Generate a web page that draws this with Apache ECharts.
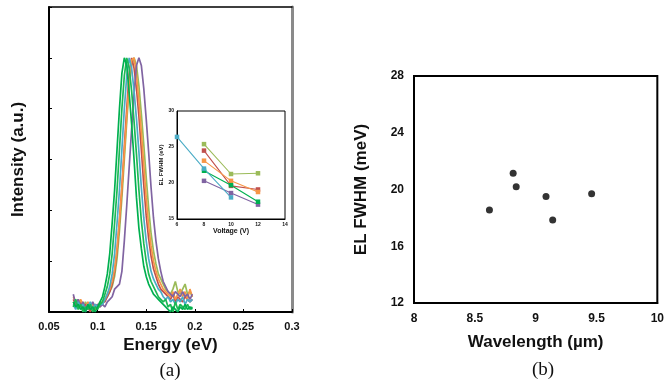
<!DOCTYPE html>
<html><head><meta charset="utf-8">
<script src="https://cdn.jsdelivr.net/npm/echarts@6/dist/echarts.min.js"></script>
<style>html,body{margin:0;padding:0;background:#fff}#c{width:667px;height:386px}</style>
</head><body><div id="c"></div>
<script>
// ---- Panel (a): EL spectra ----
const energies = [0.075,0.0775,0.080,0.0825,0.085,0.0875,0.090,0.0925,0.095,0.0975,0.100,0.1025,0.105,0.1075,0.110,0.1125,0.115,0.1175,0.120,0.1225,0.125,0.1275,0.130,0.1325,0.135,0.1375,0.140,0.1425,0.145,0.1475,0.150,0.1525,0.155,0.1575,0.160,0.1625,0.165,0.1675,0.170,0.1725,0.175,0.1775,0.180,0.1825,0.185,0.1875,0.190,0.1925,0.195,0.1975];
const specGreen1 = [0.04,0.02,0.03,0.01,0.02,0.00,0.03,0.01,0.02,0.00,0.02,0.04,0.06,0.10,0.15,0.23,0.35,0.48,0.64,0.80,0.94,1.0,0.97,0.86,0.74,0.60,0.45,0.33,0.25,0.18,0.14,0.11,0.09,0.07,0.06,0.05,0.04,0.03,0.02,0.01,0.00,0.02,0.01,0.00,0.02,0.01,0.03,0.01,0.02,0.01];
const specGreen2 = [0.02,0.05,0.01,0.03,0.00,0.02,0.01,0.03,0.00,0.02,0.01,0.03,0.04,0.07,0.10,0.15,0.23,0.35,0.48,0.64,0.80,0.93,1.0,0.96,0.87,0.75,0.62,0.48,0.36,0.27,0.20,0.15,0.12,0.10,0.08,0.06,0.05,0.04,0.05,0.02,0.03,0.00,0.04,0.01,0.03,0.02,0.01,0.03,0.01,0.02];
const specCyan = [0.03,0.01,0.04,0.02,0.03,0.00,0.02,0.04,0.01,0.03,0.02,0.03,0.03,0.05,0.07,0.10,0.15,0.23,0.35,0.48,0.64,0.80,0.93,1.0,0.96,0.87,0.76,0.63,0.49,0.37,0.28,0.21,0.16,0.13,0.11,0.09,0.08,0.06,0.05,0.06,0.04,0.05,0.03,0.05,0.04,0.06,0.03,0.05,0.04,0.05];
const specRed = [0.05,0.03,0.02,0.04,0.01,0.03,0.02,0.00,0.03,0.01,0.02,0.03,0.04,0.04,0.06,0.08,0.11,0.16,0.24,0.36,0.49,0.65,0.80,0.94,1.0,0.96,0.88,0.77,0.64,0.50,0.38,0.29,0.22,0.17,0.14,0.11,0.09,0.08,0.07,0.06,0.05,0.07,0.04,0.06,0.05,0.04,0.06,0.05,0.04,0.05];
const specOrange = [0.06,0.04,0.02,0.05,0.03,0.01,0.04,0.02,0.03,0.01,0.03,0.02,0.04,0.05,0.07,0.09,0.12,0.17,0.25,0.36,0.49,0.63,0.77,0.90,0.99,1.0,0.93,0.83,0.71,0.58,0.45,0.34,0.26,0.20,0.16,0.13,0.11,0.09,0.08,0.07,0.06,0.08,0.05,0.07,0.09,0.06,0.08,0.05,0.09,0.06];
const specOlive = [0.04,0.02,0.05,0.03,0.01,0.04,0.02,0.03,0.01,0.03,0.02,0.04,0.03,0.05,0.06,0.08,0.10,0.14,0.21,0.32,0.45,0.60,0.75,0.89,0.97,1.0,0.97,0.89,0.78,0.66,0.53,0.41,0.31,0.24,0.19,0.15,0.13,0.11,0.09,0.08,0.07,0.09,0.12,0.08,0.07,0.09,0.11,0.07,0.08,0.06];
const specPurple = [0.07,0.03,0.05,0.02,0.04,0.01,0.03,0.02,0.04,0.02,0.03,0.02,0.03,0.02,0.04,0.05,0.06,0.09,0.10,0.11,0.16,0.28,0.42,0.57,0.72,0.86,0.97,1.0,0.97,0.88,0.76,0.63,0.49,0.37,0.28,0.21,0.16,0.12,0.10,0.08,0.07,0.06,0.08,0.07,0.06,0.08,0.06,0.07,0.05,0.07];

// ---- Inset: FWHM vs voltage ----
const voltages = [8,10,12];
const voltagesCyan = [6,8,10];
const fwhmOlive = [25.4,21.25,21.35];
const fwhmRed = [24.5,19.6,19.1];
const fwhmOrange = [23.1,20.3,18.75];
const fwhmGreen = [21.7,19.7,17.4];
const fwhmPurple = [20.3,18.6,17.0];
const fwhmCyan = [26.4,22.0,18.0];

// ---- Panel (b): FWHM vs wavelength ----
const wavelengths = [8.62,8.815,8.84,9.085,9.14,9.46];
const fwhmB = [18.55,21.15,20.2,19.5,17.85,19.7];

const C = {green:'#00B050', green2:'#1DB954', cyan:'#4BACC6', red:'#C0504D', orange:'#F79646', olive:'#9BBB59', purple:'#8064A2'};
const FONT = 'Arial, "Liberation Sans", sans-serif';

function pairs(xs, ys){ return xs.map((x,i)=>[x, ys[i]]); }
function spec(name, ys, color){
  return {type:'line', name, xAxisIndex:0, yAxisIndex:0, data:pairs(energies, ys), showSymbol:false,
    lineStyle:{color, width:1.7}, itemStyle:{color}, silent:true, animation:false};
}
function inset(name, xs, ys, color, sym){
  return {type:'line', name, xAxisIndex:2, yAxisIndex:2, data:pairs(xs, ys), symbol:sym||'rect', symbolSize:4.5,
    lineStyle:{color, width:1.1}, itemStyle:{color}, animation:false};
}

const chart = echarts.init(document.getElementById('c'), null, {renderer:'canvas'});
chart.setOption({
  backgroundColor:'#fff',
  animation:false,
  grid:[
    {left:49, right:375, top:7, bottom:74, show:false},
    {left:177, width:108, top:111, height:108, show:true, backgroundColor:'#fff', borderColor:'#000', borderWidth:1},
    {left:414, right:8, top:76, bottom:83, show:true, borderColor:'#000', borderWidth:2}
  ],
  xAxis:[
    {gridIndex:0, type:'value', min:0.05, max:0.3, interval:0.05,
     name:'Energy (eV)', nameLocation:'middle', nameGap:25,
     nameTextStyle:{fontFamily:FONT, fontWeight:'bold', fontSize:17, color:'#111'},
     axisLine:{lineStyle:{color:'#000', width:2}}, axisTick:{inside:true, length:3, lineStyle:{color:'#000'}},
     axisLabel:{fontFamily:FONT, fontWeight:'bold', fontSize:11, color:'#111', margin:9, formatter:v=>String(+v.toFixed(2))},
     splitLine:{show:false}},
    {gridIndex:0, type:'value', position:'top', min:0.05, max:0.3,
     axisLine:{show:true, onZero:false, lineStyle:{color:'#000', width:1.5}}, axisTick:{show:false}, axisLabel:{show:false}, splitLine:{show:false}},
    {gridIndex:1, type:'value', min:6, max:14, interval:2,
     name:'Voltage (V)', nameLocation:'middle', nameGap:9,
     nameTextStyle:{fontFamily:FONT, fontWeight:'bold', fontSize:7, color:'#111'},
     axisLine:{lineStyle:{color:'#000', width:1}}, axisTick:{show:false},
     axisLabel:{fontFamily:FONT, fontWeight:'bold', fontSize:5, color:'#111', margin:3}, splitLine:{show:false}},
    {gridIndex:2, type:'value', min:8, max:10, interval:0.5,
     name:'Wavelength (\u00b5m)', nameLocation:'middle', nameGap:31,
     nameTextStyle:{fontFamily:FONT, fontWeight:'bold', fontSize:17, color:'#111'},
     axisLine:{lineStyle:{color:'#000', width:2}}, axisTick:{show:false},
     axisLabel:{fontFamily:FONT, fontWeight:'bold', fontSize:12, color:'#111', margin:10}, splitLine:{show:false}}
  ],
  yAxis:[
    {gridIndex:0, type:'value', min:0, max:1.2, interval:0.2,
     name:'Intensity (a.u.)', nameLocation:'middle', nameGap:22,
     nameTextStyle:{fontFamily:FONT, fontWeight:'bold', fontSize:17, color:'#111'},
     axisLine:{show:true, lineStyle:{color:'#000', width:2}}, axisTick:{show:true, inside:true, length:3, lineStyle:{color:'#000'}},
     axisLabel:{show:false}, splitLine:{show:false}},
    {gridIndex:0, type:'value', position:'right', min:0, max:1.2,
     axisLine:{show:true, onZero:false, lineStyle:{color:'#8a8a8a', width:3}}, axisTick:{show:false}, axisLabel:{show:false}, splitLine:{show:false}},
    {gridIndex:1, type:'value', min:15, max:30, interval:5,
     name:'EL FWHM (eV)', nameLocation:'middle', nameGap:10,
     nameTextStyle:{fontFamily:FONT, fontWeight:'bold', fontSize:6, color:'#111'},
     axisLine:{show:true, lineStyle:{color:'#000', width:1}}, axisTick:{show:false},
     axisLabel:{fontFamily:FONT, fontWeight:'bold', fontSize:5, color:'#111', margin:3}, splitLine:{show:false}},
    {gridIndex:2, type:'value', min:12, max:28, interval:4,
     name:'EL FWHM (meV)', nameLocation:'middle', nameGap:44,
     nameTextStyle:{fontFamily:FONT, fontWeight:'bold', fontSize:17, color:'#111'},
     axisLine:{show:true, lineStyle:{color:'#000', width:2}}, axisTick:{show:false},
     axisLabel:{fontFamily:FONT, fontWeight:'bold', fontSize:12, color:'#111', margin:10}, splitLine:{show:false}}
  ],
  series:[
    spec('olive', specOlive, C.olive),
    spec('red', specRed, C.red),
    spec('orange', specOrange, C.orange),
    spec('purple', specPurple, C.purple),
    spec('cyan', specCyan, C.cyan),
    spec('green2', specGreen2, C.green2),
    spec('green1', specGreen1, C.green),
    inset('olive', voltages, fwhmOlive, C.olive),
    inset('red', voltages, fwhmRed, C.red),
    inset('orange', voltages, fwhmOrange, C.orange),
    inset('purple', voltages, fwhmPurple, C.purple),
    inset('green', voltages, fwhmGreen, C.green),
    inset('cyan', voltagesCyan, fwhmCyan, C.cyan, 'rect'),
    {type:'scatter', xAxisIndex:3, yAxisIndex:3, data:pairs(wavelengths, fwhmB), symbol:'circle', symbolSize:7,
     itemStyle:{color:'#000'}, animation:false}
  ],
  graphic:[
    {type:'text', x:170, y:371, style:{text:'(a)', font:'19px "Liberation Serif", "Times New Roman", serif', fill:'#111', textAlign:'center', textVerticalAlign:'middle'}},
    {type:'text', x:543, y:370, style:{text:'(b)', font:'19px "Liberation Serif", "Times New Roman", serif', fill:'#111', textAlign:'center', textVerticalAlign:'middle'}}
  ]
});
</script></body></html>
